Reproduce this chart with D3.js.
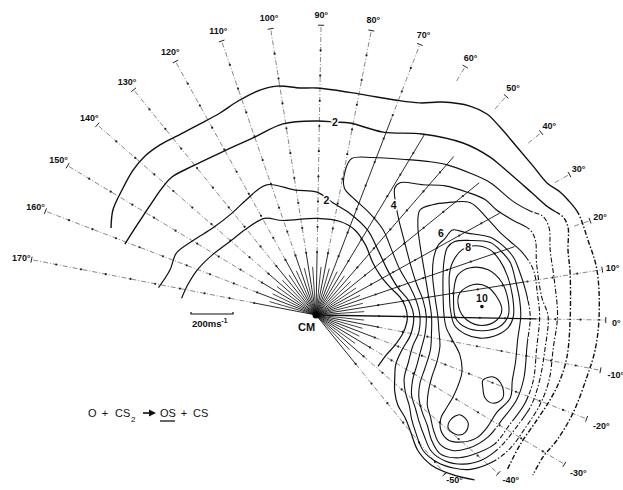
<!DOCTYPE html>
<html>
<head>
<meta charset="utf-8">
<script src="https://cdn.jsdelivr.net/npm/d3@7/dist/d3.min.js"></script>
<style>
body{margin:0;background:#fff}
svg{display:block;font-family:"Liberation Sans",Arial,sans-serif}
</style>
</head>
<body>
<svg id="chart" width="623" height="490"></svg>
<script>
// polar grid: ray angles (deg) and how far each ray runs (m/s)
const rayAngles=[-50,-40,-30,-20,-10,0,10,20,30,40,50,60,70,80,90,100,110,120,130,140,150,160,170];
const rayReach=[975,1150,1380,1380,1380,1380,1380,1380,1380,1380,1380,1380,1380,1380,1380,1380,1380,1380,1380,1380,1380,1380,1380];
const minorAngles=[-45,-35,-25,-15,-5,5,15,25,35,45,55,65,75,85,95,105,115,125,135,145,155,165];
const rayTicks=[300,420,540,660,780,900,1020,1140,1260];
const labelSpeed=1430;

// contours, velocity space (vx, vy) in m/s relative to CM
const contourA=[[-976,414],[-967,500],[-924,595],[-871,690],[-814,757],[-743,810],[-671,848],[-552,910],[-457,962],[-371,1019],[-267,1071],[-186,1090],[-76,1081],[5,1081],[210,1052],[376,1024],[495,1010],[600,1014],[733,995],[814,957],[876,895],[957,800],[1033,710],[1100,629],[1162,586],[1200,548],[1248,486],[1295,357],[1338,214],[1348,-10],[1329,-167],[1290,-295],[1224,-467],[1148,-595],[1081,-676],[1033,-762]];
const contourB=[[-910,338],[-862,414],[-814,486],[-767,557],[-729,610],[-686,657],[-586,710],[-448,776],[-300,843],[-157,910],[5,924],[90,919],[162,914],[319,871],[505,862],[700,819],[829,752],[876,714],[1029,581],[1105,514],[1176,467],[1200,419],[1200,310],[1210,200],[1210,-24],[1195,-200],[1162,-310],[1114,-405],[1052,-500],[971,-619],[910,-738]];
const contourC=[[-750,130],[-695,215],[-665,295],[-585,355],[-490,415],[-400,485],[-325,555],[-235,620],[-100,595],[5,585],[80,535],[160,485],[245,405],[295,310],[340,215],[390,130],[440,70],[465,-5],[450,-95],[410,-165],[380,-235],[375,-300],[375,-365],[390,-430],[425,-490],[450,-555],[485,-645],[550,-715],[650,-760],[755,-785]];
const contourD=[[-640,80],[-610,145],[-565,215],[-495,285],[-410,350],[-340,405],[-245,460],[-160,450],[5,460],[115,445],[185,405],[235,335],[270,250],[305,190],[350,135],[400,85],[425,40],[435,-15],[415,-85],[375,-145],[335,-190],[295,-245]];

const loop3=[[135,605],[140,690],[170,745],[270,750],[435,740],[545,730],[625,715],[735,675],[830,630],[940,540],[1020,495],[1080,470],[1110,415],[1115,310],[1135,165],[1150,-5],[1130,-155],[1110,-310],[1065,-430],[995,-540],[925,-635],[840,-700],[735,-735],[660,-730],[575,-700],[510,-645],[475,-560],[455,-495],[445,-435],[425,-365],[420,-300],[440,-225],[460,-150],[490,-80],[495,-5],[480,60],[450,130],[400,215],[360,310],[320,405],[255,485],[185,550]];
const loop4=[[375,605],[400,630],[510,620],[615,615],[720,585],[805,550],[860,500],[940,450],[1020,405],[1045,355],[1050,250],[1075,85],[1105,-5],[1090,-165],[1065,-310],[1025,-430],[950,-540],[875,-630],[790,-690],[700,-710],[615,-695],[550,-650],[515,-575],[490,-505],[475,-450],[455,-380],[460,-310],[480,-240],[500,-165],[520,-85],[525,-5],[510,70],[480,145],[450,240],[425,335],[400,430],[385,500]];
const loop5=[[495,500],[555,525],[625,535],[735,535],[815,460],[875,395],[925,350],[985,295],[1035,215],[1055,95],[1065,-5],[1050,-165],[1035,-310],[995,-420],[920,-525],[850,-615],[745,-665],[660,-680],[590,-660],[550,-595],[530,-525],[505,-460],[490,-395],[495,-325],[520,-250],[545,-165],[550,-85],[550,-5],[535,95],[515,215],[495,335],[485,430]];
const loop6=[[615,365],[650,405],[720,390],[830,370],[890,330],[940,275],[970,205],[1000,110],[1020,-5],[1005,-145],[990,-300],[955,-405],[885,-500],[820,-580],[725,-635],[650,-645],[590,-615],[560,-550],[545,-485],[530,-430],[535,-365],[550,-300],[575,-225],[590,-150],[585,-70],[580,-5],[565,95],[555,190],[560,270],[580,330]];
const loop7=[[625,320],[660,350],[735,355],[830,345],[885,300],[925,250],[950,165],[970,70],[975,-5],[960,-120],[950,-225],[935,-310],[925,-395],[860,-465],[815,-535],[765,-585],[695,-605],[630,-595],[595,-550],[595,-490],[620,-445],[650,-395],[675,-340],[695,-270],[685,-190],[650,-120],[620,-60],[610,-5],[605,95],[605,190],[610,260]];
const loop8=[[650,250],[695,310],[755,330],[830,310],[875,260],[910,190],[935,95],[940,-5],[915,-60],[850,-100],[780,-110],[710,-90],[660,-50],[640,25],[635,120],[635,190]];
const loop9=[[675,190],[735,225],[820,215],[885,155],[915,70],[915,-5],[875,-55],[800,-75],[715,-60],[665,-15],[655,70],[660,145]];
const loop10=[[685,105],[750,145],[815,135],[865,80],[885,25],[860,-25],[790,-50],[720,-25],[680,35]];
const loopLobe=[[640,-500],[685,-475],[725,-515],[710,-560],[670,-570],[630,-540]];
const loopSmall=[[795,-310],[845,-295],[885,-335],[890,-395],[845,-420],[805,-395],[795,-350]];

// contour value labels and where they sit
const contourLabels=['2','2','4','6','8','10'];
const contourLabelAt=[[90,920],[50,550],[370,525],[595,390],[725,325],[790,80]];
const peakMark=[790,40];

const cx=316, cy=315, tilt=1;
const svg=d3.select('#chart');

const x=d3.scaleLinear().domain([0,1000]).range([cx,cx+210]);
const y=d3.scaleLinear().domain([0,1000]).range([cy,cy-210]);

function polar(a,s){
    let t=(a-tilt)*Math.PI/180;
    return [x(s*Math.cos(t)),y(s*Math.sin(t))];
}

const defs=svg.append('defs');
defs.append('clipPath').attr('id','clip-solid').append('path').attr('d','M0,0H623V212H528V420H495V490H0Z');
defs.append('clipPath').attr('id','clip-dash').append('path').attr('d','M528,212H623V490H495V420H528Z');

// rays
const rays=svg.append('g').attr('class','rays');
const solidTo=a=>(a>=0&&a<=70)?(a==0?1050:1000):300;
// rays 20..60 only show a stub out past the outer contour
const dashFrom=a=>(a>=20&&a<=60)?1300:solidTo(a);

rays.selectAll('line.minor').data(minorAngles).join('line')
    .attr('class','minor')
    .attr('x1',cx).attr('y1',cy)
    .attr('x2',d=>polar(d,230)[0]).attr('y2',d=>polar(d,230)[1])
    .attr('stroke','#111').attr('stroke-width',0.8);

rays.selectAll('line.solid').data(rayAngles).join('line')
    .attr('class','solid')
    .attr('x1',cx).attr('y1',cy)
    .attr('x2',d=>polar(d,solidTo(d))[0]).attr('y2',d=>polar(d,solidTo(d))[1])
    .attr('stroke','#111').attr('stroke-width',d=>d==0?1.4:0.9);

rays.selectAll('line.dash').data(rayAngles).join('line')
    .attr('class','dash')
    .attr('x1',d=>polar(d,dashFrom(d))[0]).attr('y1',d=>polar(d,dashFrom(d))[1])
    .attr('x2',(d,i)=>polar(d,rayReach[i])[0]).attr('y2',(d,i)=>polar(d,rayReach[i])[1])
    .attr('stroke','#555').attr('stroke-width',0.7)
    .attr('stroke-dasharray','5,2,1,2');

const tickData=[];
rayAngles.forEach((a,i)=>rayTicks.forEach(s=>{
    if(s<rayReach[i]-40 && !(a>=20&&a<=60&&s>1000)) tickData.push([a,s]);
}));
rays.selectAll('circle.tick').data(tickData).join('circle')
    .attr('class','tick')
    .attr('cx',d=>polar(d[0],d[1])[0]).attr('cy',d=>polar(d[0],d[1])[1])
    .attr('r',1.1).attr('fill','#222');

// small end mark on each ray
rays.selectAll('path.end').data(rayAngles).join('path')
    .attr('class','end')
    .attr('d',(d,i)=>{
        let p=polar(d,rayReach[i]);
        let t=(d-tilt)*Math.PI/180;
        let nx=Math.sin(t)*3, ny=Math.cos(t)*3;
        return `M${p[0]-nx},${p[1]-ny}L${p[0]+nx},${p[1]+ny}`;
    })
    .attr('stroke','#222').attr('stroke-width',1);

svg.append('circle').attr('cx',cx).attr('cy',cy).attr('r',3.5).attr('fill','#000');

// ray labels
svg.append('g').attr('class','ray-labels')
    .selectAll('text').data(rayAngles).join('text')
    .each(function(d){
        let p=polar(d,labelSpeed);
        if(p[1]>480){
            let t=(d-tilt)*Math.PI/180;
            let s=(480-cy)/(-Math.sin(t))/0.21;
            p=polar(d,s);
        }
        d3.select(this).attr('x',p[0]+(d<0?5:0)).attr('y',p[1]+(d<=0&&d>-40?3:0));
    })
    .attr('text-anchor','middle').attr('dominant-baseline','central')
    .attr('font-size',9).attr('font-weight','bold').attr('fill','#111')
    .text(d=>d+'°');

// contours
const lineOpen=d3.line().x(d=>x(d[0])).y(d=>y(d[1])).curve(d3.curveCatmullRom.alpha(0.5));
const lineClosed=d3.line().x(d=>x(d[0])).y(d=>y(d[1])).curve(d3.curveCatmullRomClosed.alpha(0.5));

const openSet=[contourA,contourB,contourC,contourD];
const closedSet=[loop3,loop4,loop5,loop6,loop7,loop8,loop9,loop10,loopLobe,loopSmall];

[['clip-solid',null],['clip-dash','5,2,1.5,2']].forEach(([clip,dash])=>{
    let g=svg.append('g').attr('clip-path',`url(#${clip})`)
        .attr('fill','none').attr('stroke','#111').attr('stroke-linejoin','round');
    if(dash) g.attr('stroke-dasharray',dash);
    g.selectAll('path.open').data(openSet).join('path')
        .attr('class','open').attr('d',lineOpen)
        .attr('stroke-width',(d,i)=>i<2?1.4:1.2);
    g.selectAll('path.closed').data(closedSet).join('path')
        .attr('class','closed').attr('d',lineClosed)
        .attr('stroke-width',1.1);
});

// contour labels
svg.append('g').selectAll('text').data(contourLabels).join('text')
    .attr('x',(d,i)=>x(contourLabelAt[i][0])).attr('y',(d,i)=>y(contourLabelAt[i][1]))
    .attr('text-anchor','middle').attr('dominant-baseline','central')
    .attr('font-size',10.5).attr('font-weight','bold').attr('fill','#111')
    .attr('stroke','#fff').attr('stroke-width',3).attr('paint-order','stroke')
    .text(d=>d);
svg.append('circle').attr('cx',x(peakMark[0])).attr('cy',y(peakMark[1])).attr('r',1.8).attr('fill','#111');

// CM
svg.append('text').attr('x',298).attr('y',331)
    .attr('font-size',11).attr('font-weight','bold').attr('fill','#111').text('CM');

// 200 m/s scale bar
const barX=191, barY=314;
svg.append('path')
    .attr('d',`M${barX},${barY-2}V${barY}H${barX+x(200)-x(0)}V${barY-2}`)
    .attr('fill','none').attr('stroke','#111').attr('stroke-width',1.2);
const bt=svg.append('text').attr('x',barX+1).attr('y',327)
    .attr('font-size',9.5).attr('font-weight','bold').attr('fill','#111');
bt.append('tspan').text('200ms');
bt.append('tspan').attr('dy',-4).attr('font-size',6.5).text('-1');

// reaction
const eq=svg.append('g').attr('font-size',11).attr('fill','#111');
eq.append('text').attr('x',88).attr('y',417).text('O');
eq.append('text').attr('x',105).attr('y',417).attr('text-anchor','middle').text('+');
eq.append('text').attr('x',115).attr('y',417).text('CS');
eq.append('text').attr('x',131).attr('y',422).attr('font-size',8).text('2');
eq.append('path').attr('d','M143,413H150').attr('stroke','#111').attr('stroke-width',1.6);
eq.append('path').attr('d','M149,409.5L156,413L149,416.5Z').attr('fill','#111');
eq.append('text').attr('x',160).attr('y',417).text('OS');
eq.append('line').attr('x1',160).attr('x2',175).attr('y1',421).attr('y2',421).attr('stroke','#111').attr('stroke-width',1.3);
eq.append('text').attr('x',184).attr('y',417).attr('text-anchor','middle').text('+');
eq.append('text').attr('x',193).attr('y',417).text('CS');
</script>
</body>
</html>
